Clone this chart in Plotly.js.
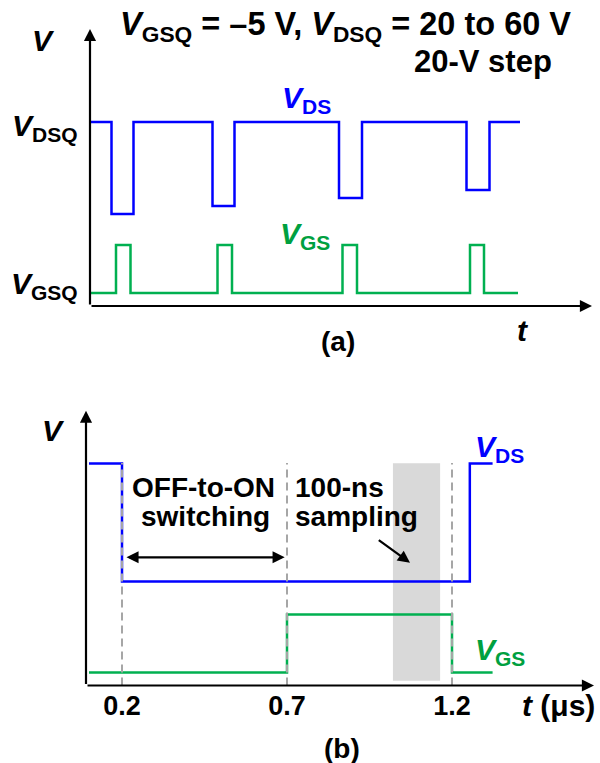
<!DOCTYPE html>
<html>
<head>
<meta charset="utf-8">
<script src="https://cdn.plot.ly/plotly-3.0.1.min.js"></script>
<style>html,body{margin:0;padding:0;background:#fff;}#chart{width:600px;height:763px;}</style>
</head>
<body>
<div id="chart"></div>
<script>
// ---------- Panel (a): schematic pulse trains (arbitrary units) ----------
const aTimeVDS = [0, 4.3, 4.3, 8.7, 8.7, 24.5, 24.5, 28.9, 28.9, 49.8, 49.8, 54.4, 54.4, 75.3, 75.3, 79.9, 79.9, 86];
const aVDS     = [184, 184, 92, 92, 184, 184, 100, 100, 184, 184, 108, 108, 184, 184, 116, 116, 184, 184];
const aTimeVGS = [0, 5.2, 5.2, 8.1, 8.1, 25.5, 25.5, 28.4, 28.4, 50.5, 50.5, 53.4, 53.4, 76, 76, 78.8, 78.8, 85.6];
const aVGS     = [13, 13, 61, 61, 13, 13, 61, 61, 13, 13, 61, 61, 13, 13, 61, 61, 13, 13];

// ---------- Panel (b): single switching event (t in µs) ----------
const bTimeVDS = [0.10, 0.2, 0.2, 1.254, 1.254, 1.323];
const bVDS     = [222, 222, 104, 104, 222, 222];
const bTimeVGS = [0.10, 0.7, 0.7, 1.2, 1.2, 1.323];
const bVGS     = [13, 13, 71, 71, 13, 13];
const bMarkers = [0.2, 0.7, 1.2];
const bTickText = ['0.2', '0.7', '1.2'];
const bSampling = [1.021, 1.164];

const BLUE = '#0000FF', GREEN = '#00B050', GREEN_TXT = '#00A040', GRAY = '#A6A6A6';
const FONT = 'Liberation Sans, Arial, Helvetica, sans-serif';
const W = 600, H = 763;
const px = v => v / W, py = v => 1 - v / H;

const traces = [
  {x: aTimeVDS, y: aVDS, xaxis: 'x', yaxis: 'y', mode: 'lines', line: {color: BLUE, width: 2.5}, hoverinfo: 'skip'},
  {x: aTimeVGS, y: aVGS, xaxis: 'x', yaxis: 'y', mode: 'lines', line: {color: GREEN, width: 2.5}, hoverinfo: 'skip'},
  {x: bTimeVDS, y: bVDS, xaxis: 'x2', yaxis: 'y2', mode: 'lines', line: {color: BLUE, width: 2.5}, hoverinfo: 'skip'},
  {x: bTimeVGS, y: bVGS, xaxis: 'x2', yaxis: 'y2', mode: 'lines', line: {color: GREEN, width: 2.5}, hoverinfo: 'skip'}
];

const shapes = [
  {type: 'rect', xref: 'x2', yref: 'y2', x0: bSampling[0], x1: bSampling[1], y0: 4.8, y1: 222.2,
   fillcolor: '#D9D9D9', line: {width: 0}, layer: 'below'}
];
bMarkers.forEach(t => shapes.push({type: 'line', xref: 'x2', yref: 'y2', x0: t, x1: t, y0: 0, y1: 222.5,
  line: {color: GRAY, width: 2, dash: '8px,5px'}, layer: 'above'}));

function arrow(xr, yr, x, y, ax, ay, side) {
  return {xref: xr, yref: yr, axref: xr, ayref: yr, x: x, y: y, ax: ax, ay: ay, text: '',
    showarrow: true, arrowhead: 2, arrowsize: 1.1, arrowwidth: 2.2, arrowcolor: '#000',
    arrowside: side || 'end', standoff: 0, startstandoff: 0};
}
function label(text, x, y, xa, size, color) {
  return {xref: 'paper', yref: 'paper', x: px(x), y: py(y), xanchor: xa || 'center', yanchor: 'middle',
    text: text, showarrow: false, font: {family: FONT, size: size || 30, color: color || '#000'}};
}

const annotations = [
  // axes (a)
  arrow('x', 'y', 0, 277, 0, 0),
  arrow('x', 'y', 100.4, 0, 0, 0),
  // axes (b)
  arrow('x2', 'y2', 0.0909, 274.8, 0.0909, 0),
  arrow('x2', 'y2', 1.6303, 0, 0.0909, 0),
  // double arrow & sampling arrow
  arrow('x2', 'y2', 0.693, 128.2, 0.209, 128.2, 'start+end'),
  arrow('x2', 'y2', 1.0727, 122.8, 0.9736, 146.5),
  // panel (a) text
  label('<b><i>V</i></b>', 43, 41, 'center', 30),
  label('<b><i>V</i><sub>GSQ</sub> = –5 V, <i>V</i><sub>DSQ</sub> = 20 to 60 V</b>', 573, 27, 'right', 32.5),
  label('<b>20-V step</b>', 554, 61, 'right', 31),
  label('<b><i>V</i><sub>DSQ</sub></b>', 80, 127, 'right', 30),
  label('<b><i>V</i><sub>GSQ</sub></b>', 80, 286, 'right', 30),
  label('<b><i>V</i><sub>DS</sub></b>', 306, 100, 'center', 30, BLUE),
  label('<b><i>V</i><sub>GS</sub></b>', 305, 235, 'center', 30, GREEN_TXT),
  label('<b><i>t</i></b>', 523, 330, 'center', 30),
  label('<b>(a)</b>', 338, 342, 'center', 28),
  // panel (b) text
  label('<b><i>V</i></b>', 53, 431, 'center', 30),
  label('<b><i>V</i><sub>DS</sub></b>', 473, 448, 'left', 30, BLUE),
  label('<b><i>V</i><sub>GS</sub></b>', 473, 651, 'left', 30, GREEN_TXT),
  label('<b>OFF-to-ON</b>', 203, 487, 'center', 28),
  label('<b>switching</b>', 205, 516, 'center', 28),
  label('<b>100-ns</b>', 293, 487, 'left', 28),
  label('<b>sampling</b>', 293, 516, 'left', 28),
  label('<b><i>t</i> (μs)</b>', 597, 705, 'right', 30),
  label('<b>(b)</b>', 342, 748, 'center', 28)
];

const hidden = {showgrid: false, zeroline: false, showticklabels: false, showline: false, ticks: ''};

const layout = {
  width: W, height: H,
  margin: {l: 0, r: 0, t: 0, b: 0},
  paper_bgcolor: '#fff', plot_bgcolor: 'rgba(0,0,0,0)',
  showlegend: false,
  font: {family: FONT},
  xaxis: Object.assign({}, hidden, {domain: [px(90), px(592)], range: [0, 100.4], anchor: 'y'}),
  yaxis: Object.assign({}, hidden, {domain: [py(306), py(29)], range: [0, 277], anchor: 'x'}),
  xaxis2: Object.assign({}, hidden, {domain: [px(86), px(594)], range: [0.0909, 1.6303], anchor: 'y2',
    showticklabels: true, tickmode: 'array', tickvals: bMarkers, ticktext: bTickText.map(s => '<b>' + s + '</b>'),
    tickfont: {family: FONT, size: 27, color: '#000'}, ticklabelstandoff: 1}),
  yaxis2: Object.assign({}, hidden, {domain: [py(685.5), py(410.7)], range: [0, 274.8], anchor: 'x2'}),
  shapes: shapes,
  annotations: annotations
};

Plotly.newPlot('chart', traces, layout, {staticPlot: true, displayModeBar: false});
</script>
</body>
</html>
